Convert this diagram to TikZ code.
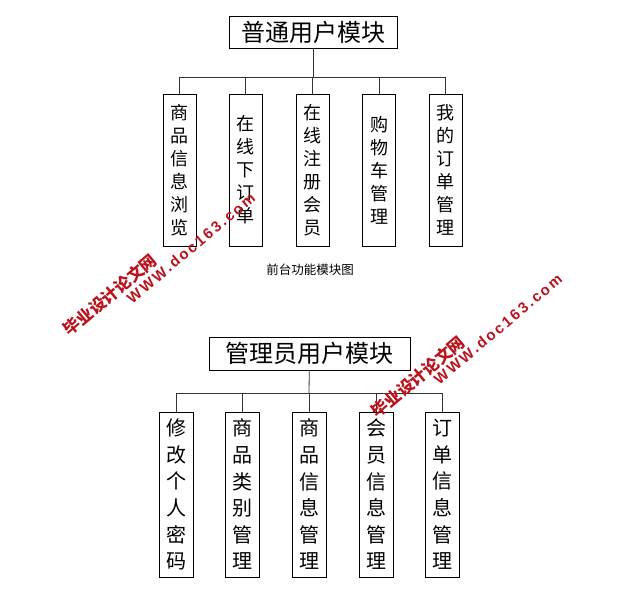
\documentclass[tikz,border=0pt]{standalone}
\usepackage{fontspec}
\setmainfont{Liberation Sans}
\newfontfamily\cjk{Noto Sans CJK SC}
\newfontfamily\wmfont[LetterSpace=15]{Liberation Sans}
\definecolor{wmred}{RGB}{185,20,30}
\usetikzlibrary{positioning}

\begin{document}
\begin{tikzpicture}[x=1pt, y=-1pt,
  headbox/.style={draw, line width=0.9pt, inner sep=0pt, minimum height=32pt, font=\cjk\fontsize{24}{28}\selectfont},
  ubox/.style={draw, line width=0.9pt, inner sep=0pt, minimum width=33pt, minimum height=152pt, align=center, font=\cjk\fontsize{18}{23}\selectfont},
  abox/.style={draw, line width=0.9pt, inner sep=0pt, minimum width=34pt, minimum height=165pt, align=center, font=\cjk\fontsize{20}{26.6}\selectfont},
  link/.style={draw=black!80, line width=0.8pt},
  wmcn/.style={text=wmred, rotate=40, font=\cjk\bfseries\fontsize{16.5}{17}\selectfont},
  wmen/.style={text=wmred, rotate=40, font=\wmfont\bfseries\fontsize{15}{16}\selectfont}
]
  \useasboundingbox (0,0) rectangle (632,614);

  \node[headbox, minimum width=168pt] (user) at (313,32) {普通用户模块};
  \coordinate (userbus) at (313,77);
  \node[ubox] (u1) at (179.5,170) {商\\品\\信\\息\\浏\\览};
  \node[ubox] (u2) at (245.5,170) {在\\线\\下\\订\\单};
  \node[ubox] (u3) at (312.5,170) {在\\线\\注\\册\\会\\员};
  \node[ubox] (u4) at (379,170) {购\\物\\车\\管\\理};
  \node[ubox] (u5) at (445.5,170) {我\\的\\订\\单\\管\\理};
  \draw[link] (user) -- (userbus);
  \foreach \i in {1,...,5} \draw[link] (u\i.north) |- (userbus);

  \node[font=\cjk\fontsize{12.5}{14}\selectfont] (cap) at (310,270) {前台功能模块图};

  \node[headbox, minimum width=201pt, minimum height=33pt] (admin) at (309.5,353.5) {管理员用户模块};
  \coordinate (adminbus) at (309,393);
  \node[abox] (a1) at (176,494.5) {修\\改\\个\\人\\密\\码};
  \node[abox] (a2) at (242.5,494.5) {商\\品\\类\\别\\管\\理};
  \node[abox] (a3) at (309,494.5) {商\\品\\信\\息\\管\\理};
  \node[abox] (a4) at (376,494.5) {会\\员\\信\\息\\管\\理};
  \node[abox] (a5) at (442.5,494.5) {订\\单\\信\\息\\管\\理};
  \draw[link] (admin) -- (adminbus);
  \foreach \i in {1,...,5} \draw[link] (a\i.north) |- (adminbus);

  \node[wmcn] (wm1cn) at (110,295) {毕业设计论文网};
  \node[wmen] (wm1en) at (191,248) {WWW.doc163.com};
  \node[wmcn] (wm2cn) at (418,377) {毕业设计论文网};
  \node[wmen] (wm2en) at (498,329) {WWW.doc163.com};
\end{tikzpicture}
\end{document}
